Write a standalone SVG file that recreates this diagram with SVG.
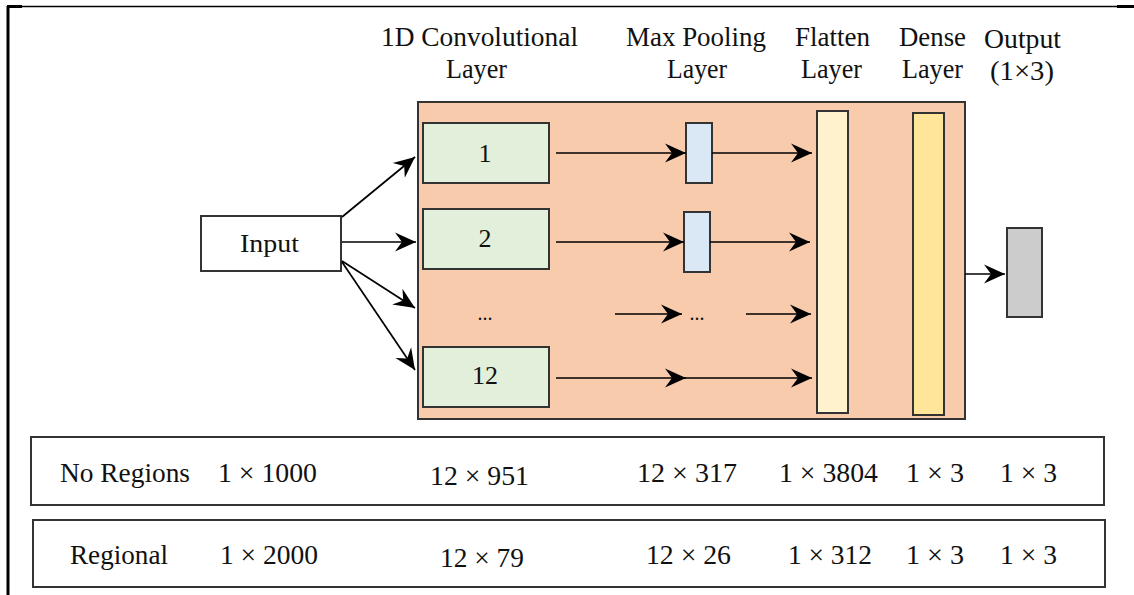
<svg xmlns="http://www.w3.org/2000/svg" width="1134" height="595" viewBox="0 0 1134 595">
  <defs>
    <marker id="arrow" markerUnits="userSpaceOnUse" markerWidth="22" markerHeight="22" viewBox="0 0 22 22" refX="21" refY="11" orient="auto">
      <path d="M0,1.5 L21,11 L0,20.5 L7,11 z" fill="#000"/>
    </marker>
    <style>
      text { font-family: 'Liberation Serif', 'Times New Roman', Times, serif; fill: #111; }
      .hdr { font-size: 28px; text-anchor: middle; }
      .lbl { font-size: 26px; text-anchor: middle; }
      .tbl { font-size: 27px; }
      .box { stroke: #333; stroke-width: 2; }
      .conn { stroke: #000; stroke-width: 1.7; fill: none; marker-end: url(#arrow); }
    </style>
  </defs>
  <rect width="1134" height="595" fill="#fff"/>

  <!-- page frame -->
  <g id="frame" stroke="#000" fill="none">
    <line x1="8" y1="6" x2="8" y2="595" stroke-width="3"/>
    <line x1="7" y1="6.5" x2="1134" y2="6.5" stroke-width="1.5"/>
    <line x1="7" y1="6.5" x2="22" y2="6.5" stroke-width="3"/>
    <line x1="1117" y1="6.5" x2="1134" y2="6.5" stroke-width="3"/>
  </g>

  <!-- column headings -->
  <g id="headings" class="hdr">
    <text x="479.5" y="46" textLength="197" lengthAdjust="spacingAndGlyphs">1D Convolutional</text>
    <text x="476.5" y="78" textLength="61" lengthAdjust="spacingAndGlyphs">Layer</text>
    <text x="696" y="46" textLength="140" lengthAdjust="spacingAndGlyphs">Max Pooling</text>
    <text x="697" y="78" textLength="60" lengthAdjust="spacingAndGlyphs">Layer</text>
    <text x="832.5" y="46" textLength="75" lengthAdjust="spacingAndGlyphs">Flatten</text>
    <text x="831.5" y="78" textLength="61" lengthAdjust="spacingAndGlyphs">Layer</text>
    <text x="932.5" y="46" textLength="67" lengthAdjust="spacingAndGlyphs">Dense</text>
    <text x="932.5" y="78" textLength="61" lengthAdjust="spacingAndGlyphs">Layer</text>
    <text x="1022.5" y="48" textLength="77" lengthAdjust="spacingAndGlyphs">Output</text>
    <text x="1022" y="80" textLength="64" lengthAdjust="spacingAndGlyphs">(1×3)</text>
  </g>

  <!-- model container -->
  <g id="model">
    <rect x="418" y="102" width="547" height="317" fill="#f8cbad" class="box"/>
  </g>

  <g id="input">
    <rect x="201" y="216" width="140" height="55" fill="#fff" class="box"/>
    <text x="269.5" y="252" class="lbl" textLength="59" lengthAdjust="spacingAndGlyphs">Input</text>
  </g>

  <g id="conv1">
    <rect x="423" y="123" width="126" height="60" fill="#e2efda" class="box"/>
    <text x="485" y="162" class="lbl">1</text>
  </g>
  <g id="conv2">
    <rect x="423" y="209" width="126" height="60" fill="#e2efda" class="box"/>
    <text x="485" y="247" class="lbl">2</text>
  </g>
  <g id="conv-more">
    <text x="485" y="320" class="lbl" style="font-size:20px">...</text>
  </g>
  <g id="conv12">
    <rect x="423" y="347" width="126" height="60" fill="#e2efda" class="box"/>
    <text x="485" y="384" class="lbl">12</text>
  </g>

  <g id="pool1">
    <rect x="686" y="123" width="26" height="60" fill="#dae8f5" class="box"/>
  </g>
  <g id="pool2">
    <rect x="684" y="212" width="26" height="60" fill="#dae8f5" class="box"/>
  </g>
  <g id="pool-more">
    <text x="697" y="320" class="lbl" style="font-size:20px">...</text>
  </g>

  <g id="flatten">
    <rect x="817" y="111" width="31" height="302" fill="#fff2cc" class="box"/>
  </g>
  <g id="dense">
    <rect x="913" y="113" width="31" height="302" fill="#ffe599" class="box"/>
  </g>

  <g id="output">
    <rect x="1007" y="228" width="35" height="89" fill="#cccccc" class="box"/>
  </g>

  <!-- connectors -->
  <g id="connectors">
    <path class="conn" d="M342,217 L415,157"/>
    <path class="conn" d="M342,242 L416,242"/>
    <path class="conn" d="M342,261 L415,308"/>
    <path class="conn" d="M342,262 L415,370"/>

    <path class="conn" d="M556,153 L686,153"/>
    <path class="conn" d="M712,153 L812,153"/>
    <path class="conn" d="M556,242 L684,242"/>
    <path class="conn" d="M710,242 L810,242"/>
    <path class="conn" d="M615,314 L682,314"/>
    <path class="conn" d="M746,314 L811,314"/>
    <path class="conn" d="M556,378 L686,378"/>
    <path class="conn" d="M680,378 L812,378"/>

    <path class="conn" d="M965,274 L1005,274"/>
  </g>

  <!-- shape summary table -->
  <g id="row-no-regions">
    <rect x="31" y="437" width="1073" height="68" fill="#fff" class="box"/>
    <g class="tbl">
      <text x="60" y="482" textLength="130" lengthAdjust="spacingAndGlyphs">No Regions</text>
      <text x="218" y="482" textLength="99" lengthAdjust="spacingAndGlyphs">1 × 1000</text>
      <text x="430" y="485" textLength="99" lengthAdjust="spacingAndGlyphs">12 × 951</text>
      <text x="637" y="482" textLength="100" lengthAdjust="spacingAndGlyphs">12 × 317</text>
      <text x="779" y="482" textLength="99" lengthAdjust="spacingAndGlyphs">1 × 3804</text>
      <text x="906" y="482" textLength="58" lengthAdjust="spacingAndGlyphs">1 × 3</text>
      <text x="1000" y="482" textLength="57" lengthAdjust="spacingAndGlyphs">1 × 3</text>
    </g>
  </g>
  <g id="row-regional">
    <rect x="33" y="520" width="1072" height="67" fill="#fff" class="box"/>
    <g class="tbl">
      <text x="70" y="564" textLength="98" lengthAdjust="spacingAndGlyphs">Regional</text>
      <text x="220" y="564" textLength="98" lengthAdjust="spacingAndGlyphs">1 × 2000</text>
      <text x="440" y="567" textLength="84" lengthAdjust="spacingAndGlyphs">12 × 79</text>
      <text x="646" y="564" textLength="85" lengthAdjust="spacingAndGlyphs">12 × 26</text>
      <text x="788" y="564" textLength="84" lengthAdjust="spacingAndGlyphs">1 × 312</text>
      <text x="906" y="564" textLength="58" lengthAdjust="spacingAndGlyphs">1 × 3</text>
      <text x="1000" y="564" textLength="57" lengthAdjust="spacingAndGlyphs">1 × 3</text>
    </g>
  </g>
</svg>
